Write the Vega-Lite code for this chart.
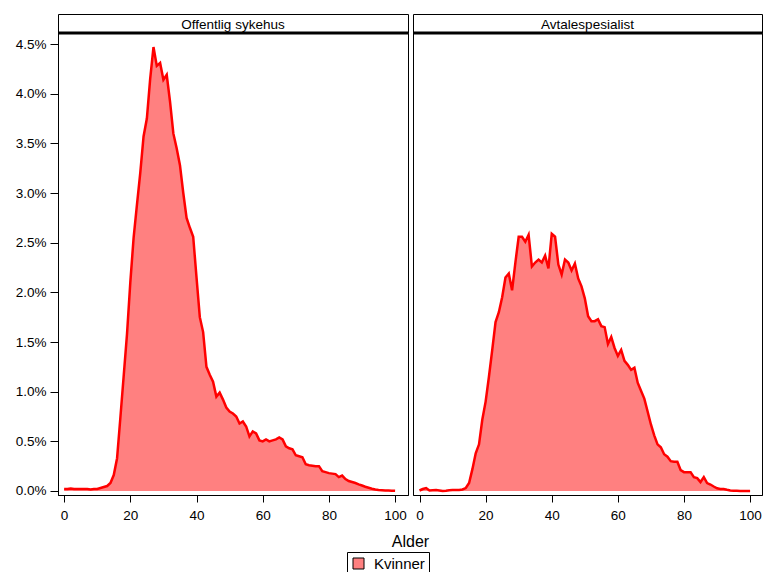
{
  "$schema": "https://vega.github.io/schema/vega-lite/v6.json",
  "background": "white",
  "padding": {"left": 14, "top": 13, "right": 0, "bottom": 0},
  "datasets": {
    "sykehus": [
      {"alder": 0, "andel": 0.0002, "kjonn": "Kvinner"},
      {"alder": 1, "andel": 0.0002, "kjonn": "Kvinner"},
      {"alder": 2, "andel": 0.00025, "kjonn": "Kvinner"},
      {"alder": 3, "andel": 0.0002, "kjonn": "Kvinner"},
      {"alder": 4, "andel": 0.0002, "kjonn": "Kvinner"},
      {"alder": 5, "andel": 0.0002, "kjonn": "Kvinner"},
      {"alder": 6, "andel": 0.0002, "kjonn": "Kvinner"},
      {"alder": 7, "andel": 0.0002, "kjonn": "Kvinner"},
      {"alder": 8, "andel": 0.00015, "kjonn": "Kvinner"},
      {"alder": 9, "andel": 0.0002, "kjonn": "Kvinner"},
      {"alder": 10, "andel": 0.0002, "kjonn": "Kvinner"},
      {"alder": 11, "andel": 0.0003, "kjonn": "Kvinner"},
      {"alder": 12, "andel": 0.0004, "kjonn": "Kvinner"},
      {"alder": 13, "andel": 0.0005, "kjonn": "Kvinner"},
      {"alder": 14, "andel": 0.0008, "kjonn": "Kvinner"},
      {"alder": 15, "andel": 0.0016, "kjonn": "Kvinner"},
      {"alder": 16, "andel": 0.0033, "kjonn": "Kvinner"},
      {"alder": 17, "andel": 0.0074, "kjonn": "Kvinner"},
      {"alder": 18, "andel": 0.0116, "kjonn": "Kvinner"},
      {"alder": 19, "andel": 0.0158, "kjonn": "Kvinner"},
      {"alder": 20, "andel": 0.021, "kjonn": "Kvinner"},
      {"alder": 21, "andel": 0.0255, "kjonn": "Kvinner"},
      {"alder": 22, "andel": 0.0288, "kjonn": "Kvinner"},
      {"alder": 23, "andel": 0.032, "kjonn": "Kvinner"},
      {"alder": 24, "andel": 0.0357, "kjonn": "Kvinner"},
      {"alder": 25, "andel": 0.0375, "kjonn": "Kvinner"},
      {"alder": 26, "andel": 0.0415, "kjonn": "Kvinner"},
      {"alder": 27, "andel": 0.0447, "kjonn": "Kvinner"},
      {"alder": 28, "andel": 0.0428, "kjonn": "Kvinner"},
      {"alder": 29, "andel": 0.0431, "kjonn": "Kvinner"},
      {"alder": 30, "andel": 0.0414, "kjonn": "Kvinner"},
      {"alder": 31, "andel": 0.0419, "kjonn": "Kvinner"},
      {"alder": 32, "andel": 0.0392, "kjonn": "Kvinner"},
      {"alder": 33, "andel": 0.036, "kjonn": "Kvinner"},
      {"alder": 34, "andel": 0.0345, "kjonn": "Kvinner"},
      {"alder": 35, "andel": 0.0328, "kjonn": "Kvinner"},
      {"alder": 36, "andel": 0.03, "kjonn": "Kvinner"},
      {"alder": 37, "andel": 0.0275, "kjonn": "Kvinner"},
      {"alder": 38, "andel": 0.0265, "kjonn": "Kvinner"},
      {"alder": 39, "andel": 0.0256, "kjonn": "Kvinner"},
      {"alder": 40, "andel": 0.0215, "kjonn": "Kvinner"},
      {"alder": 41, "andel": 0.0175, "kjonn": "Kvinner"},
      {"alder": 42, "andel": 0.016, "kjonn": "Kvinner"},
      {"alder": 43, "andel": 0.0125, "kjonn": "Kvinner"},
      {"alder": 44, "andel": 0.0117, "kjonn": "Kvinner"},
      {"alder": 45, "andel": 0.011, "kjonn": "Kvinner"},
      {"alder": 46, "andel": 0.0095, "kjonn": "Kvinner"},
      {"alder": 47, "andel": 0.0099, "kjonn": "Kvinner"},
      {"alder": 48, "andel": 0.0092, "kjonn": "Kvinner"},
      {"alder": 49, "andel": 0.0084, "kjonn": "Kvinner"},
      {"alder": 50, "andel": 0.008, "kjonn": "Kvinner"},
      {"alder": 51, "andel": 0.0078, "kjonn": "Kvinner"},
      {"alder": 52, "andel": 0.0075, "kjonn": "Kvinner"},
      {"alder": 53, "andel": 0.0068, "kjonn": "Kvinner"},
      {"alder": 54, "andel": 0.007, "kjonn": "Kvinner"},
      {"alder": 55, "andel": 0.0065, "kjonn": "Kvinner"},
      {"alder": 56, "andel": 0.0055, "kjonn": "Kvinner"},
      {"alder": 57, "andel": 0.006, "kjonn": "Kvinner"},
      {"alder": 58, "andel": 0.0058, "kjonn": "Kvinner"},
      {"alder": 59, "andel": 0.0051, "kjonn": "Kvinner"},
      {"alder": 60, "andel": 0.005, "kjonn": "Kvinner"},
      {"alder": 61, "andel": 0.0052, "kjonn": "Kvinner"},
      {"alder": 62, "andel": 0.005, "kjonn": "Kvinner"},
      {"alder": 63, "andel": 0.0051, "kjonn": "Kvinner"},
      {"alder": 64, "andel": 0.0052, "kjonn": "Kvinner"},
      {"alder": 65, "andel": 0.0054, "kjonn": "Kvinner"},
      {"alder": 66, "andel": 0.0052, "kjonn": "Kvinner"},
      {"alder": 67, "andel": 0.0045, "kjonn": "Kvinner"},
      {"alder": 68, "andel": 0.0043, "kjonn": "Kvinner"},
      {"alder": 69, "andel": 0.0042, "kjonn": "Kvinner"},
      {"alder": 70, "andel": 0.0036, "kjonn": "Kvinner"},
      {"alder": 71, "andel": 0.0035, "kjonn": "Kvinner"},
      {"alder": 72, "andel": 0.0034, "kjonn": "Kvinner"},
      {"alder": 73, "andel": 0.0027, "kjonn": "Kvinner"},
      {"alder": 74, "andel": 0.0026, "kjonn": "Kvinner"},
      {"alder": 75, "andel": 0.00255, "kjonn": "Kvinner"},
      {"alder": 76, "andel": 0.0025, "kjonn": "Kvinner"},
      {"alder": 77, "andel": 0.0025, "kjonn": "Kvinner"},
      {"alder": 78, "andel": 0.002, "kjonn": "Kvinner"},
      {"alder": 79, "andel": 0.0019, "kjonn": "Kvinner"},
      {"alder": 80, "andel": 0.0018, "kjonn": "Kvinner"},
      {"alder": 81, "andel": 0.00175, "kjonn": "Kvinner"},
      {"alder": 82, "andel": 0.0017, "kjonn": "Kvinner"},
      {"alder": 83, "andel": 0.0014, "kjonn": "Kvinner"},
      {"alder": 84, "andel": 0.00155, "kjonn": "Kvinner"},
      {"alder": 85, "andel": 0.0012, "kjonn": "Kvinner"},
      {"alder": 86, "andel": 0.001, "kjonn": "Kvinner"},
      {"alder": 87, "andel": 0.0009, "kjonn": "Kvinner"},
      {"alder": 88, "andel": 0.0008, "kjonn": "Kvinner"},
      {"alder": 89, "andel": 0.00067, "kjonn": "Kvinner"},
      {"alder": 90, "andel": 0.00055, "kjonn": "Kvinner"},
      {"alder": 91, "andel": 0.00043, "kjonn": "Kvinner"},
      {"alder": 92, "andel": 0.00033, "kjonn": "Kvinner"},
      {"alder": 93, "andel": 0.00023, "kjonn": "Kvinner"},
      {"alder": 94, "andel": 0.00015, "kjonn": "Kvinner"},
      {"alder": 95, "andel": 0.0001, "kjonn": "Kvinner"},
      {"alder": 96, "andel": 0.00008, "kjonn": "Kvinner"},
      {"alder": 97, "andel": 0.00005, "kjonn": "Kvinner"},
      {"alder": 98, "andel": 0.00004, "kjonn": "Kvinner"},
      {"alder": 99, "andel": 0.00003, "kjonn": "Kvinner"},
      {"alder": 100, "andel": 0.00002, "kjonn": "Kvinner"}
    ],
    "avtale": [
      {"alder": 0, "andel": 0.00005, "kjonn": "Kvinner"},
      {"alder": 1, "andel": 0.0002, "kjonn": "Kvinner"},
      {"alder": 2, "andel": 0.0003, "kjonn": "Kvinner"},
      {"alder": 3, "andel": 0.00005, "kjonn": "Kvinner"},
      {"alder": 4, "andel": 0.00008, "kjonn": "Kvinner"},
      {"alder": 5, "andel": 0.0001, "kjonn": "Kvinner"},
      {"alder": 6, "andel": 0.00005, "kjonn": "Kvinner"},
      {"alder": 7, "andel": 0.0, "kjonn": "Kvinner"},
      {"alder": 8, "andel": 0.00003, "kjonn": "Kvinner"},
      {"alder": 9, "andel": 0.00008, "kjonn": "Kvinner"},
      {"alder": 10, "andel": 0.0001, "kjonn": "Kvinner"},
      {"alder": 11, "andel": 0.0001, "kjonn": "Kvinner"},
      {"alder": 12, "andel": 0.0001, "kjonn": "Kvinner"},
      {"alder": 13, "andel": 0.00015, "kjonn": "Kvinner"},
      {"alder": 14, "andel": 0.0003, "kjonn": "Kvinner"},
      {"alder": 15, "andel": 0.0008, "kjonn": "Kvinner"},
      {"alder": 16, "andel": 0.0022, "kjonn": "Kvinner"},
      {"alder": 17, "andel": 0.0038, "kjonn": "Kvinner"},
      {"alder": 18, "andel": 0.0047, "kjonn": "Kvinner"},
      {"alder": 19, "andel": 0.0072, "kjonn": "Kvinner"},
      {"alder": 20, "andel": 0.009, "kjonn": "Kvinner"},
      {"alder": 21, "andel": 0.0115, "kjonn": "Kvinner"},
      {"alder": 22, "andel": 0.0142, "kjonn": "Kvinner"},
      {"alder": 23, "andel": 0.017, "kjonn": "Kvinner"},
      {"alder": 24, "andel": 0.018, "kjonn": "Kvinner"},
      {"alder": 25, "andel": 0.0195, "kjonn": "Kvinner"},
      {"alder": 26, "andel": 0.0215, "kjonn": "Kvinner"},
      {"alder": 27, "andel": 0.0219, "kjonn": "Kvinner"},
      {"alder": 28, "andel": 0.0202, "kjonn": "Kvinner"},
      {"alder": 29, "andel": 0.023, "kjonn": "Kvinner"},
      {"alder": 30, "andel": 0.0256, "kjonn": "Kvinner"},
      {"alder": 31, "andel": 0.0256, "kjonn": "Kvinner"},
      {"alder": 32, "andel": 0.0251, "kjonn": "Kvinner"},
      {"alder": 33, "andel": 0.0258, "kjonn": "Kvinner"},
      {"alder": 34, "andel": 0.0226, "kjonn": "Kvinner"},
      {"alder": 35, "andel": 0.023, "kjonn": "Kvinner"},
      {"alder": 36, "andel": 0.0233, "kjonn": "Kvinner"},
      {"alder": 37, "andel": 0.023, "kjonn": "Kvinner"},
      {"alder": 38, "andel": 0.0237, "kjonn": "Kvinner"},
      {"alder": 39, "andel": 0.0224, "kjonn": "Kvinner"},
      {"alder": 40, "andel": 0.0259, "kjonn": "Kvinner"},
      {"alder": 41, "andel": 0.0256, "kjonn": "Kvinner"},
      {"alder": 42, "andel": 0.0228, "kjonn": "Kvinner"},
      {"alder": 43, "andel": 0.0218, "kjonn": "Kvinner"},
      {"alder": 44, "andel": 0.0233, "kjonn": "Kvinner"},
      {"alder": 45, "andel": 0.023, "kjonn": "Kvinner"},
      {"alder": 46, "andel": 0.0222, "kjonn": "Kvinner"},
      {"alder": 47, "andel": 0.0229, "kjonn": "Kvinner"},
      {"alder": 48, "andel": 0.0214, "kjonn": "Kvinner"},
      {"alder": 49, "andel": 0.0206, "kjonn": "Kvinner"},
      {"alder": 50, "andel": 0.0194, "kjonn": "Kvinner"},
      {"alder": 51, "andel": 0.0176, "kjonn": "Kvinner"},
      {"alder": 52, "andel": 0.0171, "kjonn": "Kvinner"},
      {"alder": 53, "andel": 0.0171, "kjonn": "Kvinner"},
      {"alder": 54, "andel": 0.0173, "kjonn": "Kvinner"},
      {"alder": 55, "andel": 0.0166, "kjonn": "Kvinner"},
      {"alder": 56, "andel": 0.0165, "kjonn": "Kvinner"},
      {"alder": 57, "andel": 0.0148, "kjonn": "Kvinner"},
      {"alder": 58, "andel": 0.0155, "kjonn": "Kvinner"},
      {"alder": 59, "andel": 0.0144, "kjonn": "Kvinner"},
      {"alder": 60, "andel": 0.0136, "kjonn": "Kvinner"},
      {"alder": 61, "andel": 0.0142, "kjonn": "Kvinner"},
      {"alder": 62, "andel": 0.0131, "kjonn": "Kvinner"},
      {"alder": 63, "andel": 0.0127, "kjonn": "Kvinner"},
      {"alder": 64, "andel": 0.0122, "kjonn": "Kvinner"},
      {"alder": 65, "andel": 0.0124, "kjonn": "Kvinner"},
      {"alder": 66, "andel": 0.0109, "kjonn": "Kvinner"},
      {"alder": 67, "andel": 0.0101, "kjonn": "Kvinner"},
      {"alder": 68, "andel": 0.0093, "kjonn": "Kvinner"},
      {"alder": 69, "andel": 0.008, "kjonn": "Kvinner"},
      {"alder": 70, "andel": 0.0067, "kjonn": "Kvinner"},
      {"alder": 71, "andel": 0.0056, "kjonn": "Kvinner"},
      {"alder": 72, "andel": 0.0047, "kjonn": "Kvinner"},
      {"alder": 73, "andel": 0.0044, "kjonn": "Kvinner"},
      {"alder": 74, "andel": 0.0037, "kjonn": "Kvinner"},
      {"alder": 75, "andel": 0.00345, "kjonn": "Kvinner"},
      {"alder": 76, "andel": 0.003, "kjonn": "Kvinner"},
      {"alder": 77, "andel": 0.00295, "kjonn": "Kvinner"},
      {"alder": 78, "andel": 0.00295, "kjonn": "Kvinner"},
      {"alder": 79, "andel": 0.0021, "kjonn": "Kvinner"},
      {"alder": 80, "andel": 0.0019, "kjonn": "Kvinner"},
      {"alder": 81, "andel": 0.0019, "kjonn": "Kvinner"},
      {"alder": 82, "andel": 0.0019, "kjonn": "Kvinner"},
      {"alder": 83, "andel": 0.0014, "kjonn": "Kvinner"},
      {"alder": 84, "andel": 0.0013, "kjonn": "Kvinner"},
      {"alder": 85, "andel": 0.0009, "kjonn": "Kvinner"},
      {"alder": 86, "andel": 0.0014, "kjonn": "Kvinner"},
      {"alder": 87, "andel": 0.0008, "kjonn": "Kvinner"},
      {"alder": 88, "andel": 0.00065, "kjonn": "Kvinner"},
      {"alder": 89, "andel": 0.00045, "kjonn": "Kvinner"},
      {"alder": 90, "andel": 0.00027, "kjonn": "Kvinner"},
      {"alder": 91, "andel": 0.0002, "kjonn": "Kvinner"},
      {"alder": 92, "andel": 0.0002, "kjonn": "Kvinner"},
      {"alder": 93, "andel": 0.00012, "kjonn": "Kvinner"},
      {"alder": 94, "andel": 0.00005, "kjonn": "Kvinner"},
      {"alder": 95, "andel": 0.00003, "kjonn": "Kvinner"},
      {"alder": 96, "andel": 0.00002, "kjonn": "Kvinner"},
      {"alder": 97, "andel": 0.00001, "kjonn": "Kvinner"},
      {"alder": 98, "andel": 0.00001, "kjonn": "Kvinner"},
      {"alder": 99, "andel": 0.00001, "kjonn": "Kvinner"},
      {"alder": 100, "andel": 0.00001, "kjonn": "Kvinner"}
    ]
  },
  "config": {
    "font": "Liberation Sans",
    "view": {"stroke": "black", "strokeWidth": 1},
    "axis": {
      "domainColor": "black", "domainWidth": 1, "tickColor": "black", "tickWidth": 1,
      "labelColor": "black", "labelFontSize": 13.5, "labelFont": "Liberation Sans",
      "titleColor": "black", "titleFontSize": 16, "titleFontWeight": "normal", "titleFont": "Liberation Sans",
      "grid": false
    },
    "axisX": {"tickSize": 7, "labelPadding": 6},
    "axisY": {"tickSize": 8, "labelPadding": 4},
    "legend": {
      "orient": "none", "legendX": 289, "legendY": 538,
      "title": null, "symbolType": "square", "symbolSize": 121,
      "symbolStrokeColor": "black", "symbolStrokeWidth": 1, "symbolOpacity": 1,
      "labelFontSize": 15, "labelColor": "black", "labelFont": "Liberation Sans",
      "strokeColor": "black", "padding": 4, "labelOffset": 8
    }
  },
  "columns": 2,
  "spacing": {"row": 0, "column": 5},
  "bounds": "flush",
  "concat": [
    {
      "width": 350, "height": 19,
      "view": {"stroke": "black", "strokeWidth": 1, "fill": "white"},
      "data": {"values": [{"tjeneste": "Offentlig sykehus"}]},
      "mark": {"type": "text", "font": "Liberation Sans", "fontSize": 13.5, "color": "black", "dy": 1},
      "encoding": {"text": {"field": "tjeneste", "type": "nominal"}}
    },
    {
      "width": 349, "height": 19,
      "view": {"stroke": "black", "strokeWidth": 1, "fill": "white"},
      "data": {"values": [{"tjeneste": "Avtalespesialist"}]},
      "mark": {"type": "text", "font": "Liberation Sans", "fontSize": 13.5, "color": "black", "dy": 1},
      "encoding": {"text": {"field": "tjeneste", "type": "nominal"}}
    },
    {
      "width": 350, "height": 462,
      "layer": [
        {
          "data": {"name": "sykehus"},
          "mark": {"type": "area", "opacity": 1},
          "encoding": {
            "x": {"field": "alder", "type": "quantitative", "scale": {"domain": [-1.85, 103.9], "nice": false, "zero": false},
                  "axis": {"values": [0, 20, 40, 60, 80, 100], "title": "Alder", "titleX": 352, "titleY": 51, "titleBaseline": "alphabetic", "titleAlign": "center"}},
            "y": {"field": "andel", "type": "quantitative", "scale": {"domain": [-0.000403, 0.04611], "nice": false, "zero": false},
                  "axis": {"values": [0, 0.005, 0.01, 0.015, 0.02, 0.025, 0.03, 0.035, 0.04, 0.045], "format": ".1%", "title": null}},
            "color": {"field": "kjonn", "type": "nominal", "scale": {"range": ["#ff8080"]}}
          }
        },
        {
          "data": {"name": "sykehus"},
          "mark": {"type": "line", "color": "#ff0000", "strokeWidth": 2.5},
          "encoding": {
            "x": {"field": "alder", "type": "quantitative"},
            "y": {"field": "andel", "type": "quantitative"}
          }
        },
        {
          "data": {"values": [{"topp": 0.04611}]},
          "mark": {"type": "rule", "color": "black", "strokeWidth": 3},
          "encoding": {"y": {"field": "topp", "type": "quantitative"}}
        }
      ]
    },
    {
      "width": 349, "height": 462,
      "layer": [
        {
          "data": {"name": "avtale"},
          "mark": {"type": "area", "opacity": 1},
          "encoding": {
            "x": {"field": "alder", "type": "quantitative", "scale": {"domain": [-1.97, 103.6], "nice": false, "zero": false},
                  "axis": {"values": [0, 20, 40, 60, 80, 100], "title": null}},
            "y": {"field": "andel", "type": "quantitative", "scale": {"domain": [-0.000403, 0.04611], "nice": false, "zero": false},
                  "axis": null},
            "color": {"field": "kjonn", "type": "nominal", "scale": {"range": ["#ff8080"]}}
          }
        },
        {
          "data": {"name": "avtale"},
          "mark": {"type": "line", "color": "#ff0000", "strokeWidth": 2.5},
          "encoding": {
            "x": {"field": "alder", "type": "quantitative"},
            "y": {"field": "andel", "type": "quantitative"}
          }
        },
        {
          "data": {"values": [{"topp": 0.04611}]},
          "mark": {"type": "rule", "color": "black", "strokeWidth": 3},
          "encoding": {"y": {"field": "topp", "type": "quantitative"}}
        }
      ]
    }
  ]
}
